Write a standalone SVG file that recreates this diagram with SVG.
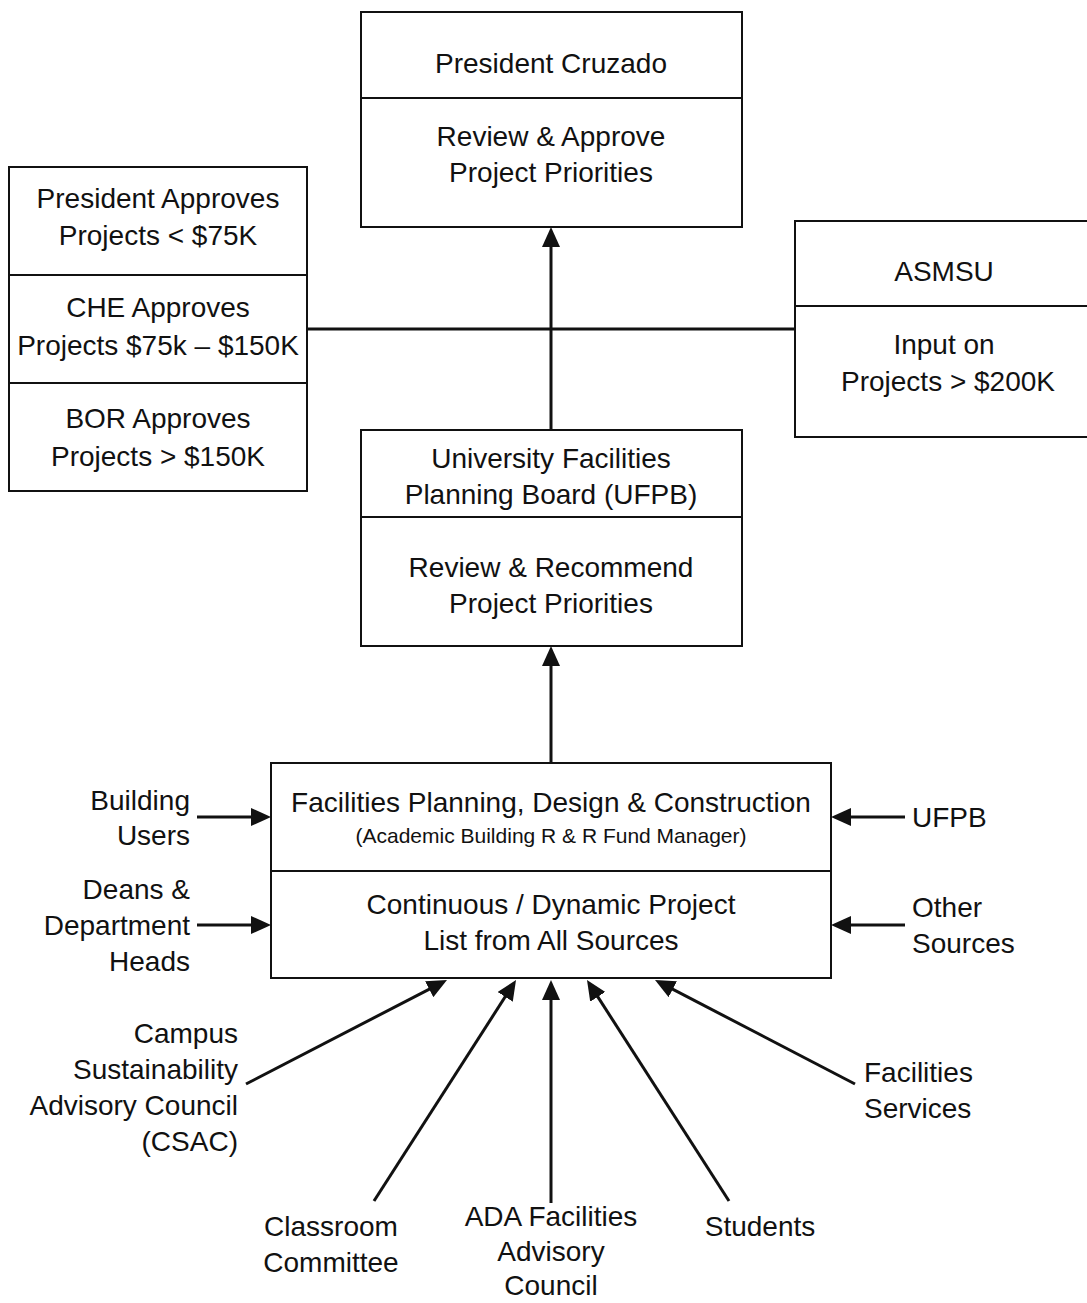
<svg xmlns="http://www.w3.org/2000/svg" width="1087" height="1303" viewBox="0 0 1087 1303">
<style>
text{font-family:"Liberation Sans",Arial,sans-serif;font-size:28px;fill:#111}
.c{text-anchor:middle}
.r{text-anchor:end}
.l{text-anchor:start}
.sm{font-size:21px}
.box{fill:#fff;stroke:#111;stroke-width:2}
.div{stroke:#111;stroke-width:2}
.con{stroke:#111;stroke-width:3;fill:none}
</style>
<defs>
<marker id="ah" viewBox="0 0 20 18" refX="10" refY="9" markerWidth="20" markerHeight="18" markerUnits="userSpaceOnUse" orient="auto">
<path d="M0,0 L20,9 L0,18 z" fill="#111"/>
</marker>
</defs>
<g id="connectors">
<line class="con" x1="307" y1="329" x2="795" y2="329"/>
<line class="con" x1="551" y1="430" x2="551" y2="237" marker-end="url(#ah)"/>
<line class="con" x1="551" y1="763" x2="551" y2="656" marker-end="url(#ah)"/>
<line class="con" x1="197" y1="817" x2="261" y2="817" marker-end="url(#ah)"/>
<line class="con" x1="197" y1="925" x2="261" y2="925" marker-end="url(#ah)"/>
<line class="con" x1="905" y1="817" x2="841" y2="817" marker-end="url(#ah)"/>
<line class="con" x1="905" y1="925" x2="841" y2="925" marker-end="url(#ah)"/>
<line class="con" x1="246" y1="1084" x2="438.1" y2="984.6" marker-end="url(#ah)"/>
<line class="con" x1="374" y1="1201" x2="510.6" y2="988.4" marker-end="url(#ah)"/>
<line class="con" x1="551" y1="1203" x2="551" y2="990" marker-end="url(#ah)"/>
<line class="con" x1="729" y1="1201" x2="592.4" y2="988.4" marker-end="url(#ah)"/>
<line class="con" x1="855" y1="1084" x2="663.9" y2="984.6" marker-end="url(#ah)"/>
</g>
<g id="president">
<rect class="box" x="361" y="12" width="381" height="215"/>
<line class="div" x1="361" y1="98" x2="742" y2="98"/>
<text class="c" x="551" y="73">President Cruzado</text>
<text class="c" x="551" y="146">Review &amp; Approve</text>
<text class="c" x="551" y="182">Project Priorities</text>
</g>
<g id="approvals">
<rect class="box" x="9" y="167" width="298" height="324"/>
<line class="div" x1="9" y1="275" x2="307" y2="275"/>
<line class="div" x1="9" y1="383" x2="307" y2="383"/>
<text class="c" x="158" y="208">President Approves</text>
<text class="c" x="158" y="245">Projects &lt; $75K</text>
<text class="c" x="158" y="317">CHE Approves</text>
<text class="c" x="158" y="355">Projects $75k – $150K</text>
<text class="c" x="158" y="428">BOR Approves</text>
<text class="c" x="158" y="466">Projects &gt; $150K</text>
</g>
<g id="asmsu">
<rect class="box" x="795" y="221" width="300" height="216"/>
<line class="div" x1="795" y1="306" x2="1087" y2="306"/>
<text class="c" x="944" y="281">ASMSU</text>
<text class="c" x="944" y="354">Input on</text>
<text class="c" x="948" y="391">Projects &gt; $200K</text>
</g>
<g id="ufpb">
<rect class="box" x="361" y="430" width="381" height="216"/>
<line class="div" x1="361" y1="517" x2="742" y2="517"/>
<text class="c" x="551" y="468">University Facilities</text>
<text class="c" x="551" y="504">Planning Board (UFPB)</text>
<text class="c" x="551" y="577">Review &amp; Recommend</text>
<text class="c" x="551" y="613">Project Priorities</text>
</g>
<g id="fpdc">
<rect class="box" x="271" y="763" width="560" height="215"/>
<line class="div" x1="271" y1="871" x2="831" y2="871"/>
<text class="c" x="551" y="812">Facilities Planning, Design &amp; Construction</text>
<text class="c sm" x="551" y="843">(Academic Building R &amp; R Fund Manager)</text>
<text class="c" x="551" y="914">Continuous / Dynamic Project</text>
<text class="c" x="551" y="950">List from All Sources</text>
</g>
<g id="building-users">
<text class="r" x="190" y="810">Building</text>
<text class="r" x="190" y="845">Users</text>
</g>
<g id="deans">
<text class="r" x="190" y="899">Deans &amp;</text>
<text class="r" x="190" y="935">Department</text>
<text class="r" x="190" y="971">Heads</text>
</g>
<g id="ufpb-source">
<text class="l" x="912" y="827">UFPB</text>
</g>
<g id="other-sources">
<text class="l" x="912" y="917">Other</text>
<text class="l" x="912" y="953">Sources</text>
</g>
<g id="csac">
<text class="r" x="238" y="1043">Campus</text>
<text class="r" x="238" y="1079">Sustainability</text>
<text class="r" x="238" y="1115">Advisory Council</text>
<text class="r" x="238" y="1151">(CSAC)</text>
</g>
<g id="classroom">
<text class="c" x="331" y="1236">Classroom</text>
<text class="c" x="331" y="1272">Committee</text>
</g>
<g id="ada">
<text class="c" x="551" y="1226">ADA Facilities</text>
<text class="c" x="551" y="1261">Advisory</text>
<text class="c" x="551" y="1295">Council</text>
</g>
<g id="students">
<text class="c" x="760" y="1236">Students</text>
</g>
<g id="facilities-services">
<text class="l" x="864" y="1082">Facilities</text>
<text class="l" x="864" y="1118">Services</text>
</g>
</svg>
